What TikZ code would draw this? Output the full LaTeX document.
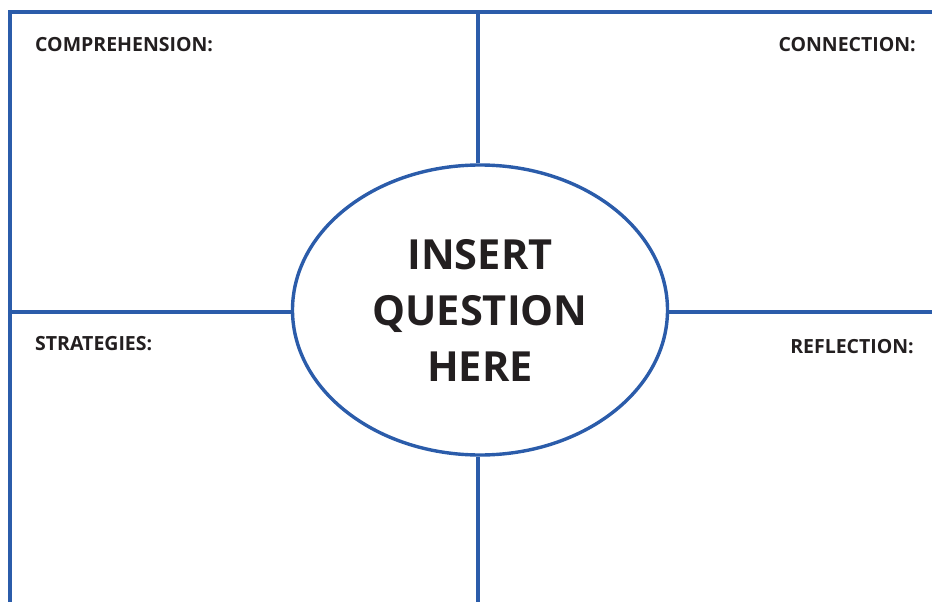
\documentclass[tikz,border=0pt]{standalone}
\usepackage{fontspec}
\setmainfont{Open Sans}
\usetikzlibrary{shapes.geometric}
\definecolor{frblue}{RGB}{43,92,170}
\definecolor{frink}{RGB}{35,31,32}
\tikzset{
  frline/.style={
    draw=frblue,
    line width=3.4pt
  },
  frlabel/.style={
    font=\bfseries\fontsize{19.5}{22}\selectfont,
    text=frink,
    inner sep=0pt
  },
  frcenter/.style={
    ellipse,
    draw=frblue,
    line width=3.4pt,
    minimum width=375pt,
    minimum height=290pt,
    inner sep=0pt,
    align=center,
    text=frink,
    font=\bfseries\fontsize{41.5}{56}\selectfont
  }
}

\begin{document}
\begin{tikzpicture}[x=1pt,y=-1pt]
    \useasboundingbox (0,0) rectangle (932,602);
    \coordinate (tl) at (10,12);
    \coordinate (tr) at (932,12);
    \coordinate (bl) at (10,602);
    \coordinate (top) at (478,12);
    \coordinate (bot) at (478,602);
    \coordinate (lft) at (10,312);
    \coordinate (rgt) at (932,312);

    \node (question) [frcenter] at (480,310) {INSERT\\QUESTION\\HERE};
    \node (comp) [frlabel, anchor=base west] at (35,52) {COMPREHENSION:};
    \node (conn) [frlabel, anchor=base east] at (916,52) {CONNECTION:};
    \node (strat) [frlabel, anchor=base west] at (35,350) {STRATEGIES:};
    \node (refl) [frlabel, anchor=base east] at (914,353) {REFLECTION:};

    \draw[frline] (bl) -- (tl) -- (tr);
    \draw[frline] (top) -- (top |- question.north);
    \draw[frline] (bot) -- (bot |- question.south);
    \draw[frline] (lft) -- (lft -| question.west);
    \draw[frline] (rgt) -- (rgt -| question.east);
  \end{tikzpicture}
\end{document}
